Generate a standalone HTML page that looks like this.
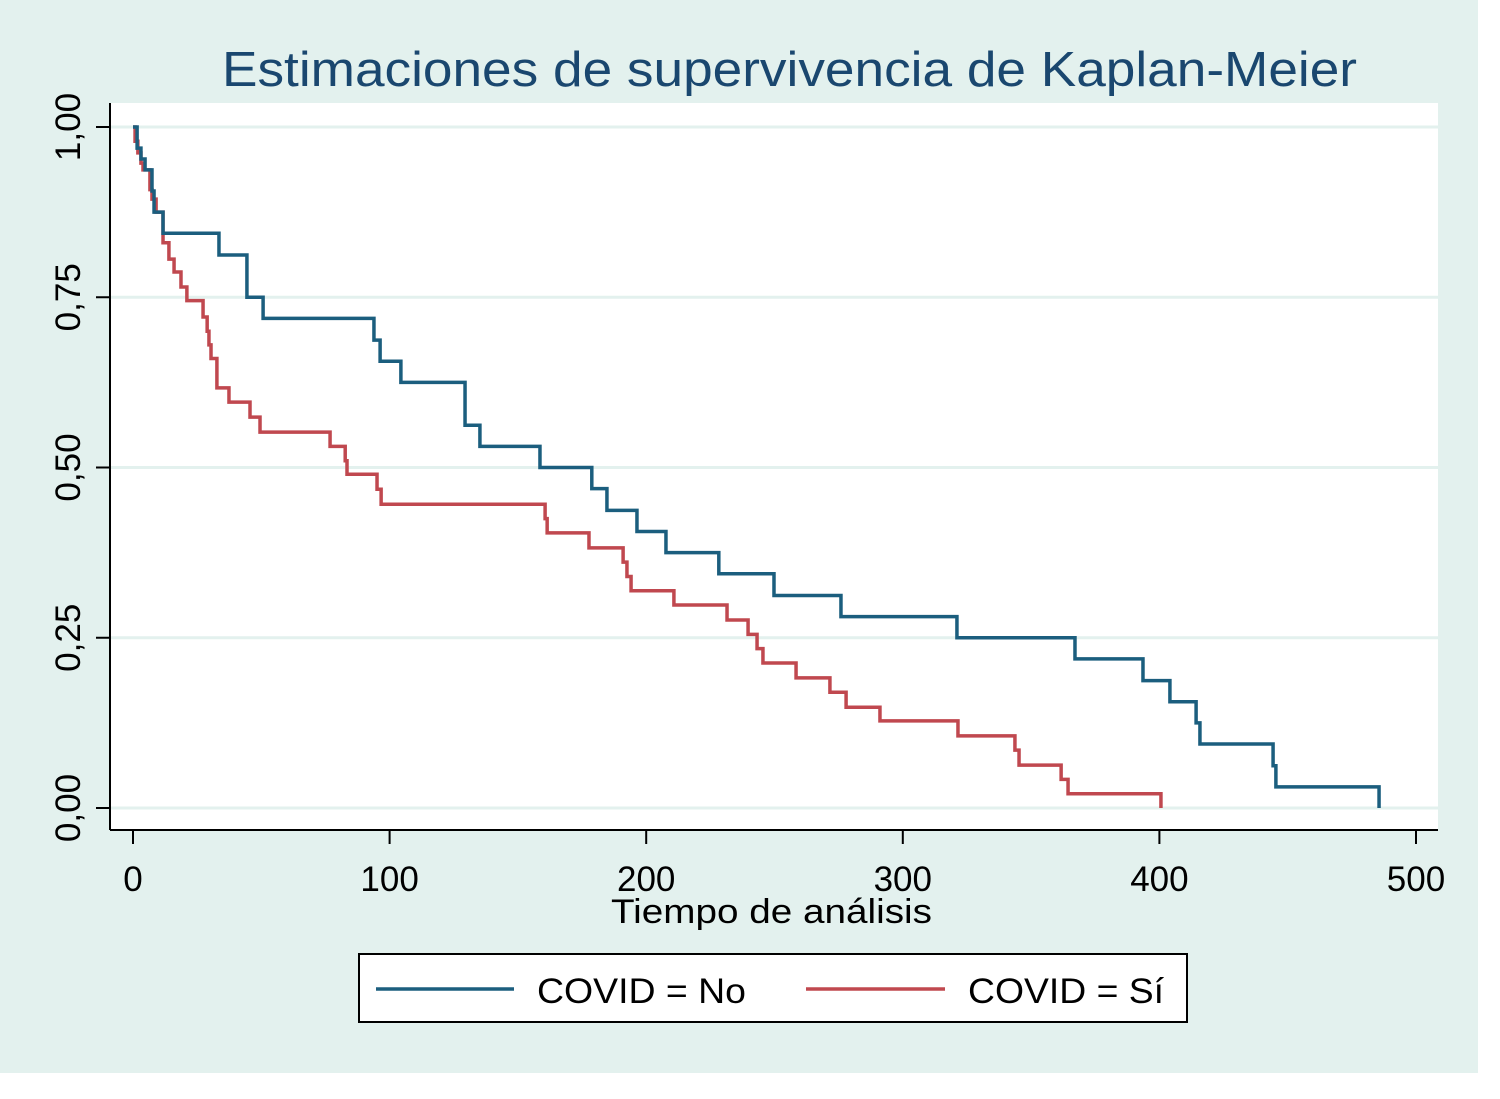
<!DOCTYPE html>
<html><head><meta charset="utf-8"><style>
html,body{margin:0;padding:0;background:#fff;}
svg{display:block;font-family:"Liberation Sans",Arial,sans-serif;}
</style></head><body>
<svg id="chart" width="1500" height="1099" viewBox="0 0 1500 1099">
<rect x="0" y="0" width="1478" height="1073" fill="#e3f1ee"/>
<rect x="110" y="103" width="1328" height="727" fill="#ffffff"/>
<text x="222" y="86" textLength="1135" lengthAdjust="spacingAndGlyphs" font-size="49" fill="#1a476f">Estimaciones de supervivencia de Kaplan-Meier</text>
<g id="grid"></g><g id="axes"></g><g id="series"></g>
<text x="611" y="923" textLength="321" lengthAdjust="spacingAndGlyphs" font-size="34" fill="#000">Tiempo de análisis</text>
<g>
<rect x="359" y="954" width="828" height="68" fill="#fff" stroke="#000" stroke-width="2"/>
<line x1="376" y1="989" x2="514" y2="989" stroke="#1b5e7e" stroke-width="3.5"/>
<text x="537" y="1003" textLength="209" lengthAdjust="spacingAndGlyphs" font-size="35" fill="#000">COVID = No</text>
<line x1="806" y1="989" x2="945" y2="989" stroke="#c0484f" stroke-width="3.5"/>
<text x="968" y="1003" textLength="196" lengthAdjust="spacingAndGlyphs" font-size="35" fill="#000">COVID = Sí</text>
</g>
</svg>
<script>
const xTicks=[0,100,200,300,400,500];
const yTicks=[0,0.25,0.5,0.75,1];
const yTickLabels=["0,00","0,25","0,50","0,75","1,00"];
const noTimes=[0,1.6,3.1,4.7,7.4,8.2,11.7,33.5,44.4,50.7,93.9,96.3,104.4,129.4,135.2,158.6,178.8,184.7,196.4,207.7,228.3,249.8,275.9,321.1,367.1,393.6,404.1,414.3,415.8,444.3,445.4,485.6];
const noSurv=[1,0.969,0.953,0.937,0.906,0.875,0.844,0.812,0.75,0.719,0.687,0.656,0.625,0.562,0.531,0.5,0.469,0.437,0.406,0.375,0.344,0.312,0.281,0.25,0.219,0.187,0.156,0.125,0.094,0.062,0.031,0];
const siTimes=[0,0.8,1.9,3.1,3.9,6.6,7.4,9.0,11.7,14.0,16.0,18.7,21.0,27.3,28.9,29.6,30.4,32.7,37.4,45.6,49.5,76.8,82.7,83.4,95.1,96.7,160.6,161.4,177.7,191.0,192.5,194.1,210.8,231.5,239.7,243.2,245.5,258.4,271.6,277.9,291.1,321.5,343.7,345.3,361.7,364.4,400.6];
const siSurv=[1,0.979,0.962,0.947,0.937,0.908,0.894,0.875,0.83,0.806,0.787,0.765,0.745,0.721,0.7,0.68,0.66,0.617,0.596,0.574,0.552,0.531,0.51,0.49,0.468,0.446,0.425,0.404,0.382,0.361,0.34,0.319,0.298,0.276,0.255,0.234,0.213,0.191,0.17,0.148,0.128,0.106,0.085,0.063,0.042,0.021,0];
const X=t=>133+t*2.566;
const Y=s=>808-s*681;
const NS="http://www.w3.org/2000/svg";
function mk(tag,attrs,parent){const e=document.createElementNS(NS,tag);for(const k in attrs)e.setAttribute(k,attrs[k]);parent.appendChild(e);return e;}
const grid=document.getElementById('grid'),axes=document.getElementById('axes'),series=document.getElementById('series');
yTicks.forEach((v,i)=>{
 const g=mk('line',{x1:110,x2:1438,y1:Y(v),y2:Y(v),stroke:'#e3f1ee','stroke-width':3},grid);
 
 
 const t=mk('line',{x1:96,x2:110,y1:Y(v),y2:Y(v),stroke:'#000','stroke-width':2},axes);
 
 
 const l=mk('text',{x:0,y:0,transform:`translate(80,${Y(v)}) rotate(-90)`,'text-anchor':'middle','font-size':35,fill:'#000'},axes);
 l.textContent=yTickLabels[i];
 
 
});
xTicks.forEach(v=>{
 const t=mk('line',{x1:X(v),x2:X(v),y1:830,y2:844,stroke:'#000','stroke-width':2},axes);
 
 
 const l=mk('text',{x:X(v),y:891,'text-anchor':'middle','font-size':35,fill:'#000'},axes);
 l.textContent=v;
 
 
});
const ya=mk('line',{x1:110,x2:110,y1:103,y2:830,stroke:'#000','stroke-width':2},axes);


const xa=mk('line',{x1:110,x2:1438,y1:830,y2:830,stroke:'#000','stroke-width':2},axes);


function stepPath(ts,ss){let d=`M${X(ts[0])},${Y(ss[0])}`;for(let i=1;i<ts.length;i++){d+=` H${X(ts[i])} V${Y(ss[i])}`;}return d;}
const p1=mk('path',{d:stepPath(siTimes,siSurv),fill:'none',stroke:'#c0484f','stroke-width':3.5},series);


const p2=mk('path',{d:stepPath(noTimes,noSurv),fill:'none',stroke:'#1b5e7e','stroke-width':3.5},series);


</script>
</body></html>
